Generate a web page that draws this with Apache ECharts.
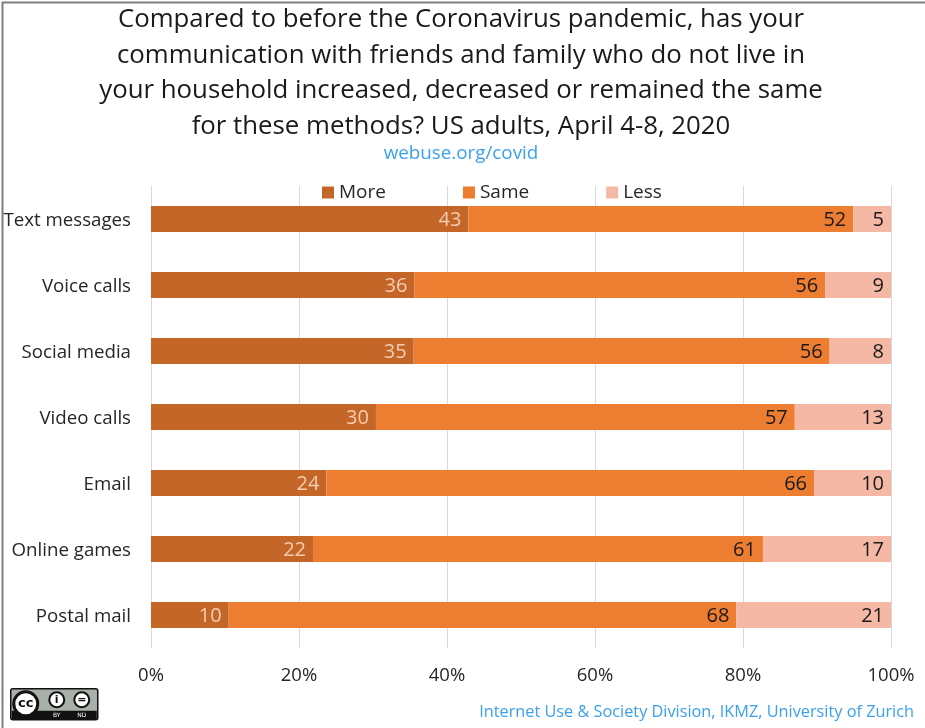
<!DOCTYPE html>
<html><head><meta charset="utf-8">
<style>html,body{margin:0;padding:0;background:#fff}#c{width:925px;height:728px}</style>
<script src="https://cdn.jsdelivr.net/npm/echarts@6/dist/echarts.min.js"></script>
</head><body><div id="c"></div>
<script>
const categories = ["Text messages","Voice calls","Social media","Video calls","Email","Online games","Postal mail"];
const moreShare = [42.9,35.6,35.5,30.4,23.7,21.9,10.5];
const sameShare = [52.0,55.5,56.2,56.6,65.9,60.8,68.6];
const lessShare = [5.1,8.9,8.3,13.0,10.4,17.3,20.9];
const moreLabels = [43,36,35,30,24,22,10];
const sameLabels = [52,56,56,57,66,61,68];
const lessLabels = [5,9,8,13,10,17,21];
const font = "Open Sans";
function s(name,data,labels,color,labelColor){
  return {name,type:'bar',stack:'a',barWidth:26,data,itemStyle:{color},
    label:{show:true,position:'insideRight',distance:7,offset:[0,1],color:labelColor,fontFamily:font,fontSize:20,
      formatter:p=>labels[p.dataIndex]}};
}
const chart = echarts.init(document.getElementById('c'),null,{renderer:'canvas'});
chart.setOption({
  animation:false,
  backgroundColor:'#fff',
  title:[{
    text:"Compared to before the Coronavirus pandemic, has your\ncommunication with friends and family who do not live in\nyour household increased, decreased or remained the same\nfor these methods? US adults, April 4-8, 2020",
    left:456,top:-3,textAlign:'center',
    textStyle:{fontFamily:font,fontSize:25.8,fontWeight:'normal',color:'#1a1a1a',lineHeight:35.5}
  },{
    text:"webuse.org/covid",left:456,top:139,textAlign:'center',
    textStyle:{fontFamily:font,fontSize:18.8,fontWeight:'normal',color:'#3aa0f0'}
  },{
    text:"Internet Use & Society Division, IKMZ, University of Zurich",right:6,top:699,
    textStyle:{fontFamily:font,fontSize:16.3,fontWeight:'normal',color:'#3aa0f0'}
  }],
  legend:{left:317,top:178,itemWidth:12,itemHeight:12,itemGap:77,icon:'rect',
    textStyle:{fontFamily:font,fontSize:19,color:'#262626'},
    data:['More','Same','Less']},
  grid:{left:151,right:34,top:186,height:462},
  xAxis:{type:'value',min:0,max:100,interval:20,
    axisLabel:{formatter:'{value}%',fontFamily:font,fontSize:18.5,color:'#262626',margin:18},
    splitLine:{show:true,lineStyle:{color:'#d9d9d9',width:1}},axisLine:{show:false},axisTick:{show:false}},
  yAxis:{type:'category',inverse:true,data:categories,
    axisLabel:{margin:20,formatter:v=>'{a|'+v+'}',
      rich:{a:{fontFamily:font,fontSize:18.7,color:'#262626',padding:[4,0,0,0]}}},
    axisLine:{show:false},axisTick:{show:false},splitLine:{show:false}},
  series:[
    s('More',moreShare,moreLabels,'#c46628','#f6cdb0'),
    s('Same',sameShare,sameLabels,'#ed7d31','#1a1a1a'),
    s('Less',lessShare,lessLabels,'#f4b8a4','#1a1a1a')
  ],
  graphic:[
    {type:'rect',left:0,top:0,shape:{width:935,height:727},style:{fill:'none',stroke:'#7f7f7f',lineWidth:2},silent:true},
    {type:'group',left:10,top:688,children:[
      {type:'rect',shape:{x:0,y:0,width:87,height:31,r:2},style:{fill:'#a9b0a9',stroke:'#111',lineWidth:1.5}},
      {type:'rect',shape:{x:1,y:22,width:85,height:9},style:{fill:'#111'}},
      {type:'circle',shape:{cx:15,cy:15,r:12},style:{fill:'#fff',stroke:'#111',lineWidth:3}},
      {type:'text',style:{x:15,y:15,text:'cc',align:'center',verticalAlign:'middle',font:'bold 13px "DejaVu Sans"',fill:'#111'}},
      {type:'circle',shape:{cx:46,cy:11,r:7.5},style:{fill:'#fff',stroke:'#111',lineWidth:2}},
      {type:'text',style:{x:46,y:11,text:'i',align:'center',verticalAlign:'middle',font:'bold 11px "DejaVu Sans"',fill:'#111'}},
      {type:'circle',shape:{cx:71,cy:11,r:7.5},style:{fill:'#fff',stroke:'#111',lineWidth:2}},
      {type:'text',style:{x:71,y:11,text:'=',align:'center',verticalAlign:'middle',font:'bold 11px "DejaVu Sans"',fill:'#111'}},
      {type:'text',style:{x:46,y:27,text:'BY',align:'center',verticalAlign:'middle',font:'6px "DejaVu Sans"',fill:'#fff'}},
      {type:'text',style:{x:71,y:27,text:'ND',align:'center',verticalAlign:'middle',font:'6px "DejaVu Sans"',fill:'#fff'}}
    ]}
  ]
});
</script></body></html>
